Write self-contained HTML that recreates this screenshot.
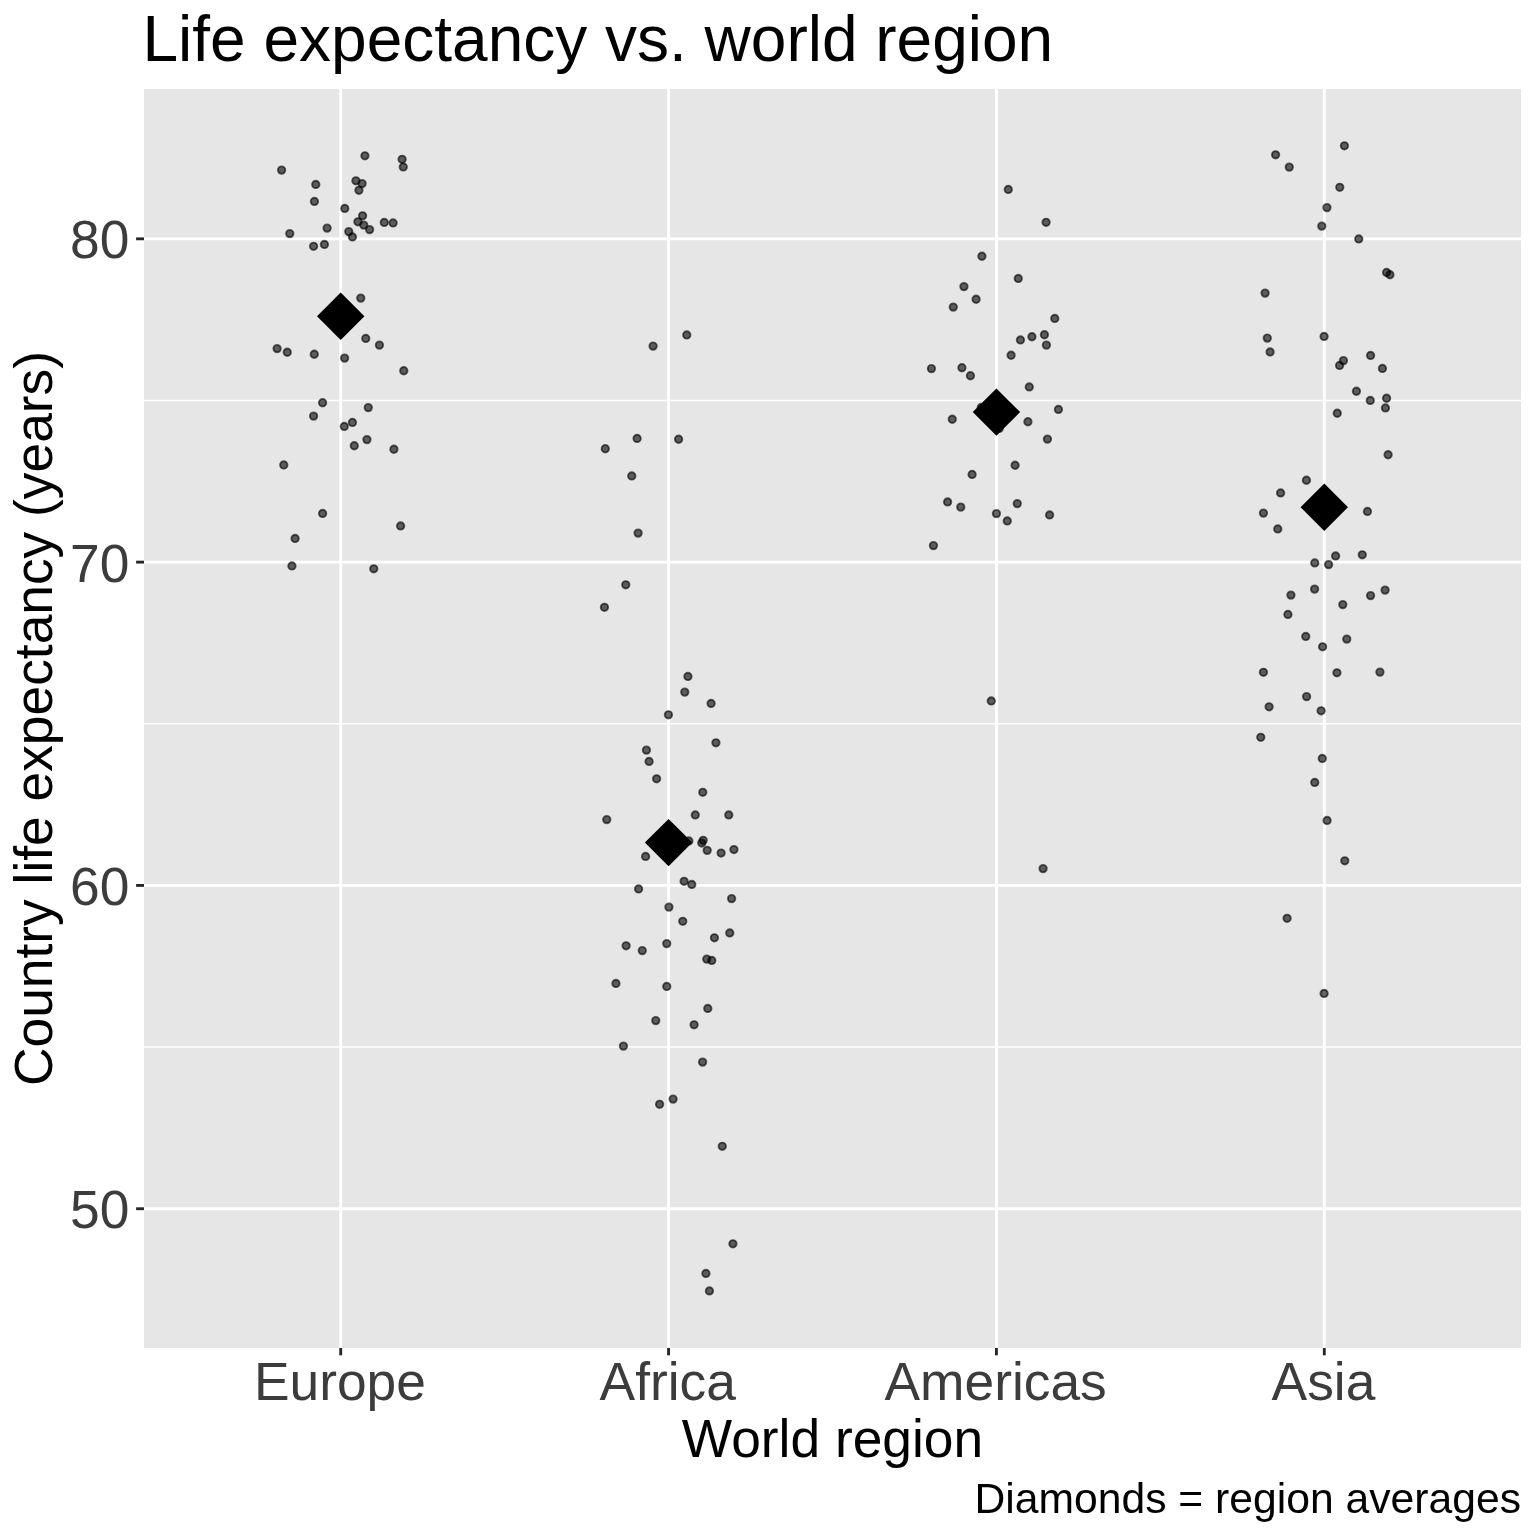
<!DOCTYPE html>
<html><head><meta charset="utf-8"><title>Life expectancy vs. world region</title>
<style>html,body{margin:0;padding:0;background:#fff;}body{width:1536px;height:1536px;overflow:hidden;}svg{display:block;will-change:transform;}text{font-family:"Liberation Sans",sans-serif;}</style>
</head><body>
<svg width="1536" height="1536" viewBox="0 0 1536 1536">
<rect x="0" y="0" width="1536" height="1536" fill="#FFFFFF"/>
<rect x="144.0" y="89.0" width="1377.0" height="1259.0" fill="#E6E6E6"/>
<clipPath id="pc"><rect x="144.0" y="89.0" width="1377.0" height="1259.0"/></clipPath>
<g clip-path="url(#pc)">
<line x1="144.0" x2="1521.0" y1="1047.08" y2="1047.08" stroke="#FFFFFF" stroke-width="1.42"/>
<line x1="144.0" x2="1521.0" y1="723.78" y2="723.78" stroke="#FFFFFF" stroke-width="1.42"/>
<line x1="144.0" x2="1521.0" y1="400.48" y2="400.48" stroke="#FFFFFF" stroke-width="1.42"/>
<line x1="144.0" x2="1521.0" y1="1208.73" y2="1208.73" stroke="#FFFFFF" stroke-width="2.85"/>
<line x1="144.0" x2="1521.0" y1="885.43" y2="885.43" stroke="#FFFFFF" stroke-width="2.85"/>
<line x1="144.0" x2="1521.0" y1="562.13" y2="562.13" stroke="#FFFFFF" stroke-width="2.85"/>
<line x1="144.0" x2="1521.0" y1="238.83" y2="238.83" stroke="#FFFFFF" stroke-width="2.85"/>
<line x1="340.71" x2="340.71" y1="89.0" y2="1348.0" stroke="#FFFFFF" stroke-width="2.85"/>
<line x1="668.57" x2="668.57" y1="89.0" y2="1348.0" stroke="#FFFFFF" stroke-width="2.85"/>
<line x1="996.43" x2="996.43" y1="89.0" y2="1348.0" stroke="#FFFFFF" stroke-width="2.85"/>
<line x1="1324.29" x2="1324.29" y1="89.0" y2="1348.0" stroke="#FFFFFF" stroke-width="2.85"/>
<g fill="#000000" fill-opacity="0.6" stroke="#000000" stroke-opacity="0.6" stroke-width="1.89">
<circle cx="364.93" cy="155.77" r="3.7"/>
<circle cx="402.10" cy="159.27" r="3.7"/>
<circle cx="403.27" cy="166.93" r="3.7"/>
<circle cx="281.60" cy="170.10" r="3.7"/>
<circle cx="355.93" cy="180.77" r="3.7"/>
<circle cx="362.10" cy="183.60" r="3.7"/>
<circle cx="315.77" cy="184.43" r="3.7"/>
<circle cx="358.93" cy="190.27" r="3.7"/>
<circle cx="314.43" cy="201.43" r="3.7"/>
<circle cx="344.77" cy="208.43" r="3.7"/>
<circle cx="362.60" cy="215.77" r="3.7"/>
<circle cx="357.93" cy="221.77" r="3.7"/>
<circle cx="363.77" cy="225.10" r="3.7"/>
<circle cx="384.27" cy="222.43" r="3.7"/>
<circle cx="393.10" cy="222.93" r="3.7"/>
<circle cx="369.60" cy="229.60" r="3.7"/>
<circle cx="327.10" cy="228.10" r="3.7"/>
<circle cx="289.77" cy="233.60" r="3.7"/>
<circle cx="348.77" cy="231.60" r="3.7"/>
<circle cx="352.43" cy="236.93" r="3.7"/>
<circle cx="324.43" cy="244.43" r="3.7"/>
<circle cx="313.60" cy="246.27" r="3.7"/>
<circle cx="360.77" cy="298.10" r="3.7"/>
<circle cx="365.77" cy="338.43" r="3.7"/>
<circle cx="379.43" cy="345.10" r="3.7"/>
<circle cx="277.10" cy="348.60" r="3.7"/>
<circle cx="287.27" cy="352.27" r="3.7"/>
<circle cx="314.27" cy="354.27" r="3.7"/>
<circle cx="344.60" cy="358.10" r="3.7"/>
<circle cx="403.77" cy="370.77" r="3.7"/>
<circle cx="322.60" cy="402.77" r="3.7"/>
<circle cx="368.27" cy="407.60" r="3.7"/>
<circle cx="313.60" cy="416.10" r="3.7"/>
<circle cx="352.43" cy="422.43" r="3.7"/>
<circle cx="344.27" cy="426.43" r="3.7"/>
<circle cx="366.93" cy="439.60" r="3.7"/>
<circle cx="354.27" cy="445.77" r="3.7"/>
<circle cx="393.93" cy="449.27" r="3.7"/>
<circle cx="283.77" cy="464.93" r="3.7"/>
<circle cx="322.60" cy="513.43" r="3.7"/>
<circle cx="400.60" cy="525.93" r="3.7"/>
<circle cx="295.10" cy="538.43" r="3.7"/>
<circle cx="291.93" cy="565.93" r="3.7"/>
<circle cx="373.77" cy="568.77" r="3.7"/>
<circle cx="686.77" cy="334.93" r="3.7"/>
<circle cx="653.10" cy="346.10" r="3.7"/>
<circle cx="637.10" cy="438.43" r="3.7"/>
<circle cx="678.60" cy="439.27" r="3.7"/>
<circle cx="605.27" cy="448.77" r="3.7"/>
<circle cx="631.77" cy="475.93" r="3.7"/>
<circle cx="638.10" cy="533.10" r="3.7"/>
<circle cx="625.77" cy="584.77" r="3.7"/>
<circle cx="604.43" cy="607.27" r="3.7"/>
<circle cx="687.93" cy="676.43" r="3.7"/>
<circle cx="684.77" cy="692.10" r="3.7"/>
<circle cx="711.10" cy="703.43" r="3.7"/>
<circle cx="668.43" cy="714.77" r="3.7"/>
<circle cx="715.93" cy="742.77" r="3.7"/>
<circle cx="646.43" cy="750.10" r="3.7"/>
<circle cx="649.10" cy="761.43" r="3.7"/>
<circle cx="656.60" cy="778.77" r="3.7"/>
<circle cx="702.77" cy="792.27" r="3.7"/>
<circle cx="695.27" cy="814.93" r="3.7"/>
<circle cx="728.77" cy="814.93" r="3.7"/>
<circle cx="606.77" cy="819.60" r="3.7"/>
<circle cx="688.85" cy="840.93" r="3.7"/>
<circle cx="703.18" cy="840.27" r="3.7"/>
<circle cx="701.77" cy="843.02" r="3.7"/>
<circle cx="707.18" cy="850.35" r="3.7"/>
<circle cx="721.10" cy="853.02" r="3.7"/>
<circle cx="733.93" cy="849.52" r="3.7"/>
<circle cx="645.60" cy="856.43" r="3.7"/>
<circle cx="684.10" cy="881.27" r="3.7"/>
<circle cx="691.77" cy="884.43" r="3.7"/>
<circle cx="638.60" cy="888.93" r="3.7"/>
<circle cx="731.60" cy="898.60" r="3.7"/>
<circle cx="668.93" cy="907.10" r="3.7"/>
<circle cx="682.77" cy="921.27" r="3.7"/>
<circle cx="729.77" cy="932.93" r="3.7"/>
<circle cx="714.43" cy="937.77" r="3.7"/>
<circle cx="666.77" cy="943.60" r="3.7"/>
<circle cx="626.10" cy="945.77" r="3.7"/>
<circle cx="642.27" cy="950.60" r="3.7"/>
<circle cx="706.77" cy="959.10" r="3.7"/>
<circle cx="711.77" cy="960.43" r="3.7"/>
<circle cx="615.93" cy="983.43" r="3.7"/>
<circle cx="666.77" cy="986.43" r="3.7"/>
<circle cx="707.77" cy="1008.43" r="3.7"/>
<circle cx="655.77" cy="1020.60" r="3.7"/>
<circle cx="694.10" cy="1024.77" r="3.7"/>
<circle cx="623.43" cy="1046.10" r="3.7"/>
<circle cx="702.60" cy="1062.10" r="3.7"/>
<circle cx="673.10" cy="1099.10" r="3.7"/>
<circle cx="659.60" cy="1104.27" r="3.7"/>
<circle cx="722.27" cy="1146.27" r="3.7"/>
<circle cx="732.93" cy="1243.77" r="3.7"/>
<circle cx="705.93" cy="1273.43" r="3.7"/>
<circle cx="709.43" cy="1290.93" r="3.7"/>
<circle cx="1008.27" cy="189.43" r="3.7"/>
<circle cx="1046.10" cy="222.27" r="3.7"/>
<circle cx="981.93" cy="256.27" r="3.7"/>
<circle cx="1018.27" cy="278.43" r="3.7"/>
<circle cx="963.93" cy="286.60" r="3.7"/>
<circle cx="976.10" cy="299.27" r="3.7"/>
<circle cx="953.27" cy="307.10" r="3.7"/>
<circle cx="1054.77" cy="318.43" r="3.7"/>
<circle cx="1044.43" cy="334.77" r="3.7"/>
<circle cx="1031.93" cy="336.77" r="3.7"/>
<circle cx="1020.43" cy="339.93" r="3.7"/>
<circle cx="1046.43" cy="345.10" r="3.7"/>
<circle cx="1011.10" cy="355.27" r="3.7"/>
<circle cx="931.43" cy="368.60" r="3.7"/>
<circle cx="961.93" cy="367.77" r="3.7"/>
<circle cx="970.43" cy="375.77" r="3.7"/>
<circle cx="1029.27" cy="386.93" r="3.7"/>
<circle cx="1058.43" cy="409.43" r="3.7"/>
<circle cx="952.27" cy="419.27" r="3.7"/>
<circle cx="1027.93" cy="421.77" r="3.7"/>
<circle cx="981.27" cy="407.43" r="3.7"/>
<circle cx="999.18" cy="428.43" r="3.7"/>
<circle cx="1047.43" cy="439.10" r="3.7"/>
<circle cx="1015.10" cy="465.27" r="3.7"/>
<circle cx="972.10" cy="474.43" r="3.7"/>
<circle cx="947.60" cy="501.93" r="3.7"/>
<circle cx="960.77" cy="507.10" r="3.7"/>
<circle cx="1017.27" cy="503.60" r="3.7"/>
<circle cx="996.43" cy="513.60" r="3.7"/>
<circle cx="1007.27" cy="520.93" r="3.7"/>
<circle cx="1049.60" cy="514.93" r="3.7"/>
<circle cx="933.43" cy="545.60" r="3.7"/>
<circle cx="991.27" cy="700.93" r="3.7"/>
<circle cx="1043.10" cy="868.60" r="3.7"/>
<circle cx="1344.43" cy="145.77" r="3.7"/>
<circle cx="1275.60" cy="154.77" r="3.7"/>
<circle cx="1289.27" cy="167.10" r="3.7"/>
<circle cx="1339.77" cy="187.27" r="3.7"/>
<circle cx="1326.93" cy="207.60" r="3.7"/>
<circle cx="1321.77" cy="226.10" r="3.7"/>
<circle cx="1358.77" cy="238.93" r="3.7"/>
<circle cx="1386.60" cy="272.43" r="3.7"/>
<circle cx="1389.93" cy="274.77" r="3.7"/>
<circle cx="1265.10" cy="293.10" r="3.7"/>
<circle cx="1267.27" cy="338.10" r="3.7"/>
<circle cx="1324.10" cy="336.43" r="3.7"/>
<circle cx="1270.10" cy="351.93" r="3.7"/>
<circle cx="1370.60" cy="355.43" r="3.7"/>
<circle cx="1343.43" cy="360.60" r="3.7"/>
<circle cx="1339.60" cy="365.43" r="3.7"/>
<circle cx="1382.43" cy="368.43" r="3.7"/>
<circle cx="1356.43" cy="391.27" r="3.7"/>
<circle cx="1370.27" cy="400.43" r="3.7"/>
<circle cx="1386.60" cy="398.27" r="3.7"/>
<circle cx="1385.43" cy="407.93" r="3.7"/>
<circle cx="1337.27" cy="413.27" r="3.7"/>
<circle cx="1388.10" cy="454.77" r="3.7"/>
<circle cx="1306.43" cy="480.27" r="3.7"/>
<circle cx="1280.60" cy="492.93" r="3.7"/>
<circle cx="1263.43" cy="513.10" r="3.7"/>
<circle cx="1367.43" cy="511.43" r="3.7"/>
<circle cx="1277.77" cy="528.93" r="3.7"/>
<circle cx="1335.60" cy="555.93" r="3.7"/>
<circle cx="1362.27" cy="554.77" r="3.7"/>
<circle cx="1314.77" cy="562.93" r="3.7"/>
<circle cx="1328.60" cy="564.60" r="3.7"/>
<circle cx="1314.60" cy="589.10" r="3.7"/>
<circle cx="1290.93" cy="595.10" r="3.7"/>
<circle cx="1385.10" cy="590.10" r="3.7"/>
<circle cx="1370.60" cy="595.60" r="3.7"/>
<circle cx="1342.77" cy="604.60" r="3.7"/>
<circle cx="1287.93" cy="614.43" r="3.7"/>
<circle cx="1305.77" cy="636.43" r="3.7"/>
<circle cx="1346.77" cy="639.10" r="3.7"/>
<circle cx="1322.60" cy="646.77" r="3.7"/>
<circle cx="1263.43" cy="672.27" r="3.7"/>
<circle cx="1336.93" cy="672.77" r="3.7"/>
<circle cx="1379.93" cy="672.10" r="3.7"/>
<circle cx="1306.60" cy="696.60" r="3.7"/>
<circle cx="1269.10" cy="706.77" r="3.7"/>
<circle cx="1321.10" cy="710.77" r="3.7"/>
<circle cx="1260.77" cy="737.27" r="3.7"/>
<circle cx="1322.27" cy="758.43" r="3.7"/>
<circle cx="1314.77" cy="782.43" r="3.7"/>
<circle cx="1327.10" cy="820.43" r="3.7"/>
<circle cx="1344.77" cy="860.77" r="3.7"/>
<circle cx="1287.10" cy="918.27" r="3.7"/>
<circle cx="1324.10" cy="993.43" r="3.7"/>
</g>
<path d="M317.01 316.20L340.71 292.50L364.41 316.20L340.71 339.90Z" fill="#000000"/>
<path d="M644.87 842.60L668.57 818.90L692.27 842.60L668.57 866.30Z" fill="#000000"/>
<path d="M972.73 412.10L996.43 388.40L1020.13 412.10L996.43 435.80Z" fill="#000000"/>
<path d="M1300.59 507.20L1324.29 483.50L1347.99 507.20L1324.29 530.90Z" fill="#000000"/>
</g>
<line x1="136.12" x2="144.0" y1="1208.73" y2="1208.73" stroke="#262626" stroke-width="2.85"/>
<line x1="136.12" x2="144.0" y1="885.43" y2="885.43" stroke="#262626" stroke-width="2.85"/>
<line x1="136.12" x2="144.0" y1="562.13" y2="562.13" stroke="#262626" stroke-width="2.85"/>
<line x1="136.12" x2="144.0" y1="238.83" y2="238.83" stroke="#262626" stroke-width="2.85"/>
<line x1="340.71" x2="340.71" y1="1348.0" y2="1355.33" stroke="#262626" stroke-width="2.85"/>
<line x1="668.57" x2="668.57" y1="1348.0" y2="1355.33" stroke="#262626" stroke-width="2.85"/>
<line x1="996.43" x2="996.43" y1="1348.0" y2="1355.33" stroke="#262626" stroke-width="2.85"/>
<line x1="1324.29" x2="1324.29" y1="1348.0" y2="1355.33" stroke="#262626" stroke-width="2.85"/>
<text x="129.4" y="1228.28" font-size="53.33" fill="#3C3C3C" text-anchor="end">50</text>
<text x="129.4" y="904.98" font-size="53.33" fill="#3C3C3C" text-anchor="end">60</text>
<text x="129.4" y="581.68" font-size="53.33" fill="#3C3C3C" text-anchor="end">70</text>
<text x="129.4" y="258.38" font-size="53.33" fill="#3C3C3C" text-anchor="end">80</text>
<text x="339.91" y="1400" font-size="53.33" fill="#3C3C3C" text-anchor="middle">Europe</text>
<text x="667.77" y="1400" font-size="53.33" fill="#3C3C3C" text-anchor="middle">Africa</text>
<text x="995.63" y="1400" font-size="53.33" fill="#3C3C3C" text-anchor="middle">Americas</text>
<text x="1323.49" y="1400" font-size="53.33" fill="#3C3C3C" text-anchor="middle">Asia</text>
<text x="142.5" y="60.9" font-size="64" fill="#000000">Life expectancy vs. world region</text>
<text x="832.50" y="1456.8" font-size="53.33" fill="#000000" text-anchor="middle">World region</text>
<text x="1521" y="1513.2" font-size="42.67" fill="#000000" text-anchor="end">Diamonds = region averages</text>
<text transform="translate(52,718.50) rotate(-90)" font-size="53.33" fill="#000000" text-anchor="middle">Country life expectancy (years)</text>
</svg></body></html>
